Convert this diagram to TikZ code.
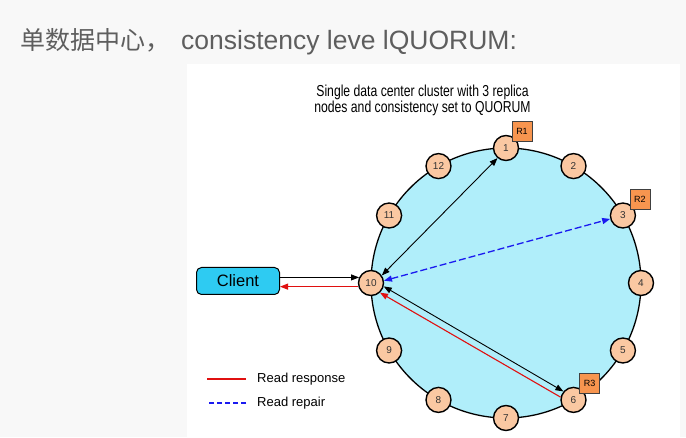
\documentclass[tikz,border=0pt]{standalone}
\usepackage{fontspec}
\setmainfont{Liberation Sans}
\newfontfamily\cjk{Noto Sans CJK SC}
\usetikzlibrary{arrows.meta}
\usetikzlibrary{calc}

\definecolor{pagegray}{HTML}{F8F8F8}
\definecolor{titlegray}{HTML}{5E5E5E}
\definecolor{ringcyan}{HTML}{B0EEFA}
\definecolor{clientcyan}{HTML}{2ECBF2}
\definecolor{nodepeach}{HTML}{FAC8A2}
\definecolor{replicaorange}{HTML}{F7954F}
\definecolor{repairblue}{HTML}{1A1AF0}
\definecolor{responsered}{HTML}{E01010}

\begin{document}
\begin{tikzpicture}[x=1pt, y=1pt,
  ringnode/.style={draw, shape=circle, fill=nodepeach, line width=1.4pt,
    minimum size=25pt, inner sep=0pt, font=\fontsize{10}{10}\selectfont, text=black!80},
  replica/.style={draw=black!75, fill=replicaorange, minimum size=20pt,
    inner sep=0pt, line width=0.6pt, font=\fontsize{9}{9}\selectfont},
  flow/.style={-{Triangle[length=8pt,width=6pt]}, line width=0.9pt},
  both/.style={{Triangle[length=8pt,width=6pt]}-{Triangle[length=8pt,width=6pt]}, line width=0.9pt},
  repair/.style={repairblue, line width=1.3pt, dash pattern=on 7pt off 3pt},
  response/.style={responsered, line width=1.1pt},
  legend/.style={anchor=west, inner sep=0pt, font=\fontsize{13}{13}\selectfont}]

  % Page and panel
  \useasboundingbox (0,0) rectangle (686,437);
  \fill[pagegray] (0,0) rectangle (686,437);
  \fill[white] (187,0) rectangle (680,373);

  % Title
  \node[anchor=base west, inner sep=0pt, text=titlegray] (title) at (20,387)
    {{\cjk\fontsize{25}{25}\selectfont 单数据中心，}\hspace{11pt}{\fontsize{26.5}{26.5}\selectfont consistency leve lQUORUM:}};
  % Caption
  \node[inner sep=0pt] (caption) at (422.5,336)
    {\scalebox{1}[1.3]{\fontsize{12.2}{11.2}\selectfont\begin{tabular}{@{}c@{}}Single data center cluster with 3 replica\\nodes and consistency set to QUORUM\end{tabular}}};

  % Ring
  \coordinate (ring) at (506,154);
  \draw[fill=ringcyan, line width=1.3pt] (ring) circle[radius=135];
  \foreach \i in {1,...,12}
    \node[ringnode] (n\i) at ($(ring)+({90-30*(\i-1)}:135)$) {\i};
  % Replica markers
  \node[replica] (r1) at ([shift={(16,17)}]n1) {R1};
  \node[replica] (r2) at ([shift={(17,16)}]n3) {R2};
  \node[replica] (r3) at ([shift={(16,17)}]n6) {R3};

  % Client
  \node[draw, fill=clientcyan, rounded corners=5pt, line width=1pt,
    minimum width=83pt, minimum height=27pt, font=\fontsize{16.5}{16.5}\selectfont] (client) at (238,156) {Client};

  % Requests and replies
  \draw[flow] (client.east |- n10.155) -- (n10.155);
  \draw[flow, response] (n10.196) -- (client.east |- n10.196);
  \draw[both] (n10.35) -- (n1.-130);
  \draw[both, repair] (n10.10) -- (n3.195);
  \draw[both] (n10.-15) -- (n6.140);
  \draw[flow, response] (n6.168) -- (n10.-47);

  % Legend
  \node[legend] (lresp) at (257,58) {Read response};
  \node[legend] (lrep) at (257,34) {Read repair};
  \draw[response] ([xshift=-11pt]lresp.west) -- ++(-39,0);
  \draw[repair, line width=1.1pt, dash pattern=on 5pt off 3pt] ([xshift=-11pt]lrep.west) -- ++(-39,0);

\end{tikzpicture}
\end{document}
